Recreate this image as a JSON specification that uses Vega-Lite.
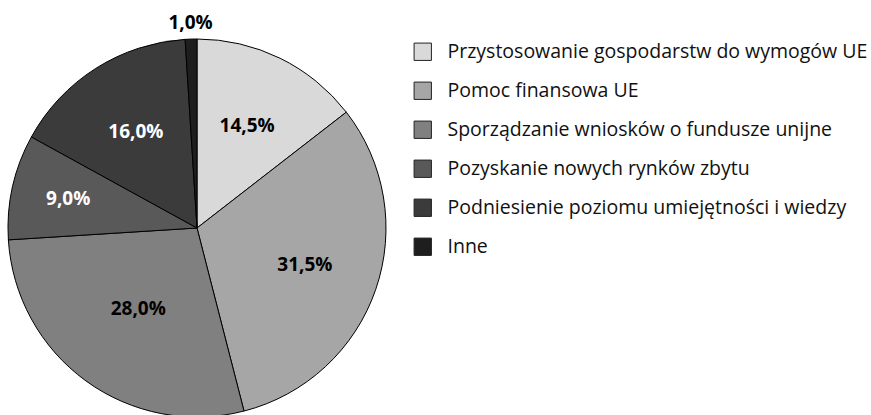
{
  "$schema": "https://vega.github.io/schema/vega-lite/v6.json",
  "width": 394,
  "height": 380,
  "autosize": {"type": "none"},
  "padding": {"left": 0, "top": 38, "right": 477, "bottom": 0},
  "background": "white",
  "config": {"view": {"stroke": null}},
  "data": {
    "values": [
      {"category": "Przystosowanie gospodarstw do wymogów UE", "value": 14.5, "order": 1, "label": "14,5%"},
      {"category": "Pomoc finansowa UE", "value": 31.5, "order": 2, "label": "31,5%"},
      {"category": "Sporządzanie wniosków o fundusze unijne", "value": 28.0, "order": 3, "label": "28,0%"},
      {"category": "Pozyskanie nowych rynków zbytu", "value": 9.0, "order": 4, "label": "9,0%"},
      {"category": "Podniesienie poziomu umiejętności i wiedzy", "value": 16.0, "order": 5, "label": "16,0%"},
      {"category": "Inne", "value": 1.0, "order": 6, "label": "1,0%"}
    ]
  },
  "encoding": {
    "theta": {"field": "value", "type": "quantitative", "stack": true},
    "order": {"field": "order", "type": "quantitative"}
  },
  "layer": [
    {
      "mark": {"type": "arc", "outerRadius": 189, "stroke": "black", "strokeWidth": 1},
      "encoding": {
        "color": {
          "field": "category",
          "type": "nominal",
          "sort": null,
          "scale": {
            "domain": ["Przystosowanie gospodarstw do wymogów UE", "Pomoc finansowa UE", "Sporządzanie wniosków o fundusze unijne", "Pozyskanie nowych rynków zbytu", "Podniesienie poziomu umiejętności i wiedzy", "Inne"],
            "range": ["#d9d9d9", "#a6a6a6", "#808080", "#595959", "#3b3b3b", "#1e1e1e"]
          },
          "legend": {
            "title": null,
            "orient": "none",
            "legendX": 413,
            "legendY": 4,
            "symbolType": "square",
            "symbolSize": 300,
            "symbolStrokeColor": "#222222",
            "symbolStrokeWidth": 1,
            "symbolOpacity": 1,
            "labelFont": "Open Sans",
            "labelFontSize": 19.5,
            "labelColor": "#111111",
            "labelOffset": 15,
            "rowPadding": 17,
            "labelLimit": 500
          }
        }
      }
    },
    {
      "mark": {"type": "text", "font": "Open Sans", "fontSize": 19, "fontWeight": "bold", "radius": 114},
      "encoding": {
        "text": {"condition": {"test": "datum.order == 1 || datum.order == 2 || datum.order == 5", "field": "label"}, "value": ""},
        "color": {"condition": {"test": "datum.order == 4 || datum.order == 5", "value": "white"}, "value": "black"}
      }
    },
    {
      "mark": {"type": "text", "font": "Open Sans", "fontSize": 19, "fontWeight": "bold", "radius": 132, "color": "white"},
      "encoding": {
        "text": {"condition": {"test": "datum.order == 4", "field": "label"}, "value": ""}
      }
    },
    {
      "mark": {"type": "text", "font": "Open Sans", "fontSize": 19, "fontWeight": "bold", "radius": 100, "color": "black"},
      "encoding": {
        "text": {"condition": {"test": "datum.order == 3", "field": "label"}, "value": ""}
      }
    },
    {
      "mark": {"type": "text", "font": "Open Sans", "fontSize": 19, "fontWeight": "bold", "radius": 205, "color": "black"},
      "encoding": {
        "text": {"condition": {"test": "datum.order == 6", "field": "label"}, "value": ""}
      }
    }
  ]
}
